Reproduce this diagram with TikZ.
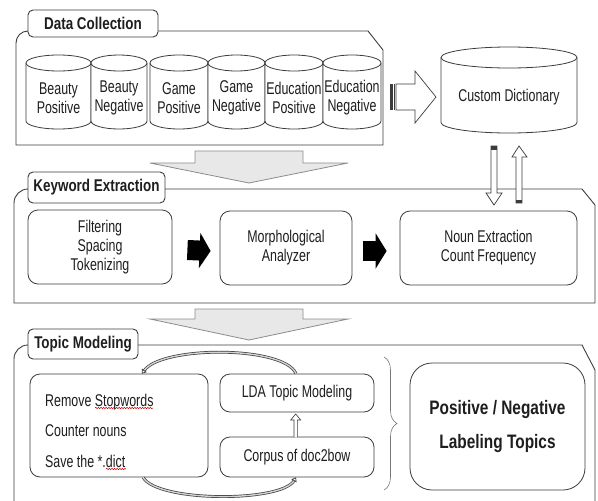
\documentclass[tikz,border=0pt]{standalone}
\usepackage{fontspec}
\setmainfont{Liberation Sans}[FakeStretch=0.73]
\newfontfamily\titlefont{Liberation Sans}[FakeStretch=0.79]
\usetikzlibrary{arrows.meta,decorations.pathreplacing,decorations.pathmorphing}
\definecolor{ln}{HTML}{3C3C3C}
\definecolor{tx}{HTML}{1E1E1E}
\definecolor{grayfill}{HTML}{E8E8E8}
\definecolor{grayline}{HTML}{8C8C8C}
\newcommand\mycyl[5]{%
 \pgfmathsetmacro\cylrx{(#2-#1)/2}%
 \pgfmathsetmacro\cylcx{(#1+#2)/2}%
 \pgfmathsetmacro\cylyt{#3+#5}%
 \pgfmathsetmacro\cylyb{#4-#5}%
 \draw[cyl] (#1,\cylyt) -- (#1,\cylyb) arc[start angle=180,end angle=360,x radius=\cylrx pt,y radius=#5pt] -- (#2,\cylyt);
 \draw[cyl] (\cylcx,\cylyt) ellipse[x radius=\cylrx pt,y radius=#5pt];
}
\begin{document}
\begin{tikzpicture}[x=1pt,y=-1pt,
  panel/.style={draw=ln,line width=0.9pt},
  tab/.style={draw=ln,line width=0.9pt,fill=white,rounded corners=5pt,text=tx,
    font=\titlefont\fontsize{17}{19}\selectfont\bfseries,inner sep=0pt},
  cyl/.style={draw=ln,line width=0.8pt,fill=white},
  txt/.style={text=tx,font=\fontsize{17}{19}\selectfont,align=center,inner sep=0pt},
  box/.style={draw=ln,line width=0.8pt,rounded corners=10pt,fill=white,text=tx,
    font=\fontsize{17}{19}\selectfont,align=center,inner sep=0pt},
  bigarrow/.style={draw=grayline,line width=0.8pt,fill=grayfill},
  hollow/.style={draw=ln,line width=0.7pt,fill=white},
  blackarrow/.style={line width=20pt,draw=black,-{Triangle[length=11pt,width=35pt]}},
  cyc/.style={draw=ln,line width=0.7pt,double=gray!35,double distance=1.4pt,
    -{Triangle[open,length=4pt,width=6pt]}},
  squig/.style={draw=red!80!black,line width=0.5pt,decorate,
    decoration={snake,amplitude=0.7pt,segment length=2.6pt}}]
\clip (0,0) rectangle (598,501);
\fill[white] (0,0) rectangle (598,501);

% ---------- Panel 1: Data Collection ----------
\draw[panel] (16,145) {[rounded corners=12pt] -- (16,31) -- (60,31)} -- (368,31) -- (383,50) -- (383,145) -- cycle;
\node[tab,minimum width=130pt,minimum height=27pt] (dctab) at (93,23.5) {Data Collection};

\mycyl{26}{91}{55}{129}{8}
\mycyl{91}{147}{55}{129}{8}
\mycyl{150}{208}{55}{129}{8}
\mycyl{208}{265}{55}{129}{8}
\mycyl{265}{323}{55}{129}{8}
\mycyl{323}{381}{55}{129}{8}
\node[txt] (bp) at (58.5,98) {Beauty\\Positive};
\node[txt] (bn) at (119,98) {Beauty\\Negative};
\node[txt] (gp) at (179,98) {Game\\Positive};
\node[txt] (gn) at (236.5,98) {Game\\Negative};
\node[txt] (ep) at (294,98) {Education\\Positive};
\node[txt] (en) at (352,98) {Education\\Negative};

% Custom dictionary
\mycyl{441}{577}{47}{133}{10.5}
\node[txt] (cd) at (509,97) {Custom Dictionary};

% striped hollow right arrow
\fill[ln] (390,84) rectangle (393,110);
\draw[ln,line width=0.8pt] (394.8,84) -- (394.8,110);
\draw[hollow] (396,84) -- (415,84) -- (415,71) -- (436,97) -- (415,123) -- (415,110) -- (396,110) -- cycle;

% big gray arrow 1
\draw[bigarrow] (195,151) -- (303,151) -- (303,163) -- (348,163) -- (249,183) -- (150,163) -- (195,163) -- cycle;

% ---------- Panel 2: Keyword Extraction ----------
\draw[panel] (14,303) {[rounded corners=14pt] -- (14,189) -- (60,189)} -- (582,189) -- (595,205) -- (595,303) -- cycle;
\node[tab,minimum width=137pt,minimum height=31pt] (kwtab) at (96.5,187.5) {Keyword Extraction};

\node[box,minimum width=144pt,minimum height=74pt] (filt) at (100,247) {Filtering\\Spacing\\Tokenizing};
\node[box,minimum width=132pt,minimum height=74pt] (morph) at (286,248) {Morphological\\Analyzer};
\node[box,minimum width=177pt,minimum height=74pt] (noun) at (488.5,248) {Noun Extraction\\Count Frequency};

\draw[blackarrow] ([xshift=15pt,yshift=-3pt]filt.east) -- ([xshift=-9pt,yshift=-3pt]morph.west);
\draw[blackarrow] ([xshift=11pt,yshift=-3pt]morph.east) -- ([xshift=-13pt,yshift=-3pt]noun.west);

% vertical hollow arrows between dictionary and keyword extraction
\draw[hollow] (491,146) -- (497,146) -- (497,193) -- (502,193) -- (494,205) -- (486,193) -- (491,193) -- cycle;
\fill[ln] (491,146) rectangle (497,149.5);
\draw[hollow] (516,203) -- (516,157) -- (512,157) -- (519,146) -- (527,157) -- (522,157) -- (522,203) -- cycle;
\fill[ln] (516,199.5) rectangle (522,203);

% big gray arrow 2
\draw[bigarrow] (195,309) -- (303,309) -- (303,319) -- (348,319) -- (249,340) -- (150,319) -- (195,319) -- cycle;

% ---------- Panel 3: Topic Modeling ----------
\draw[panel] (14,510) {[rounded corners=14pt] -- (14,345) -- (60,345)} -- (582,345) -- (595,370) -- (595,510);
\node[tab,minimum width=110pt,minimum height=30pt] (tmtab) at (83,344) {Topic Modeling};

\node[box,minimum width=178pt,minimum height=103pt] (rem) at (119,425.5) {};
\node[txt,anchor=west,align=left,font=\fontsize{17}{30.5}\selectfont] (remtxt) at (45,430.5) {Remove Stopwords\\Counter nouns\\Save the *.dict};
\draw[squig] (95,408) -- (153,408);
\draw[squig] (106,469) -- (126,469);

\node[box,minimum width=154pt,minimum height=38pt] (lda) at (297,393) {LDA Topic Modeling};
\node[box,minimum width=154pt,minimum height=40pt] (corp) at (297,457) {Corpus of doc2bow};

% small up arrow corpus -> lda
\draw[hollow,line width=0.6pt] (294,437) -- (294,420) -- (290.7,420) -- (295.7,414) -- (300.7,420) -- (297.4,420) -- (297.4,437);

% cycle arcs
\draw[cyc] ([xshift=-1pt]lda.north) .. controls +(-12,-28) and +(20,-28) .. ([xshift=23pt]rem.north);
\draw[cyc] ([xshift=24pt]rem.south) .. controls +(15,25) and +(-15,25) .. ([xshift=-1pt]corp.south);

% brace
\draw[ln!70,line width=0.6pt,decorate,decoration={brace,amplitude=13pt}] (384,357) -- (384,490) coordinate[midway] (bracemid);

\node[box,rounded corners=22pt,minimum width=175pt,minimum height=127pt,
  font=\titlefont\fontsize{19.5}{34}\selectfont\bfseries] (pn) at (497.5,426.5) {Positive / Negative\\Labeling Topics};
\end{tikzpicture}
\end{document}
